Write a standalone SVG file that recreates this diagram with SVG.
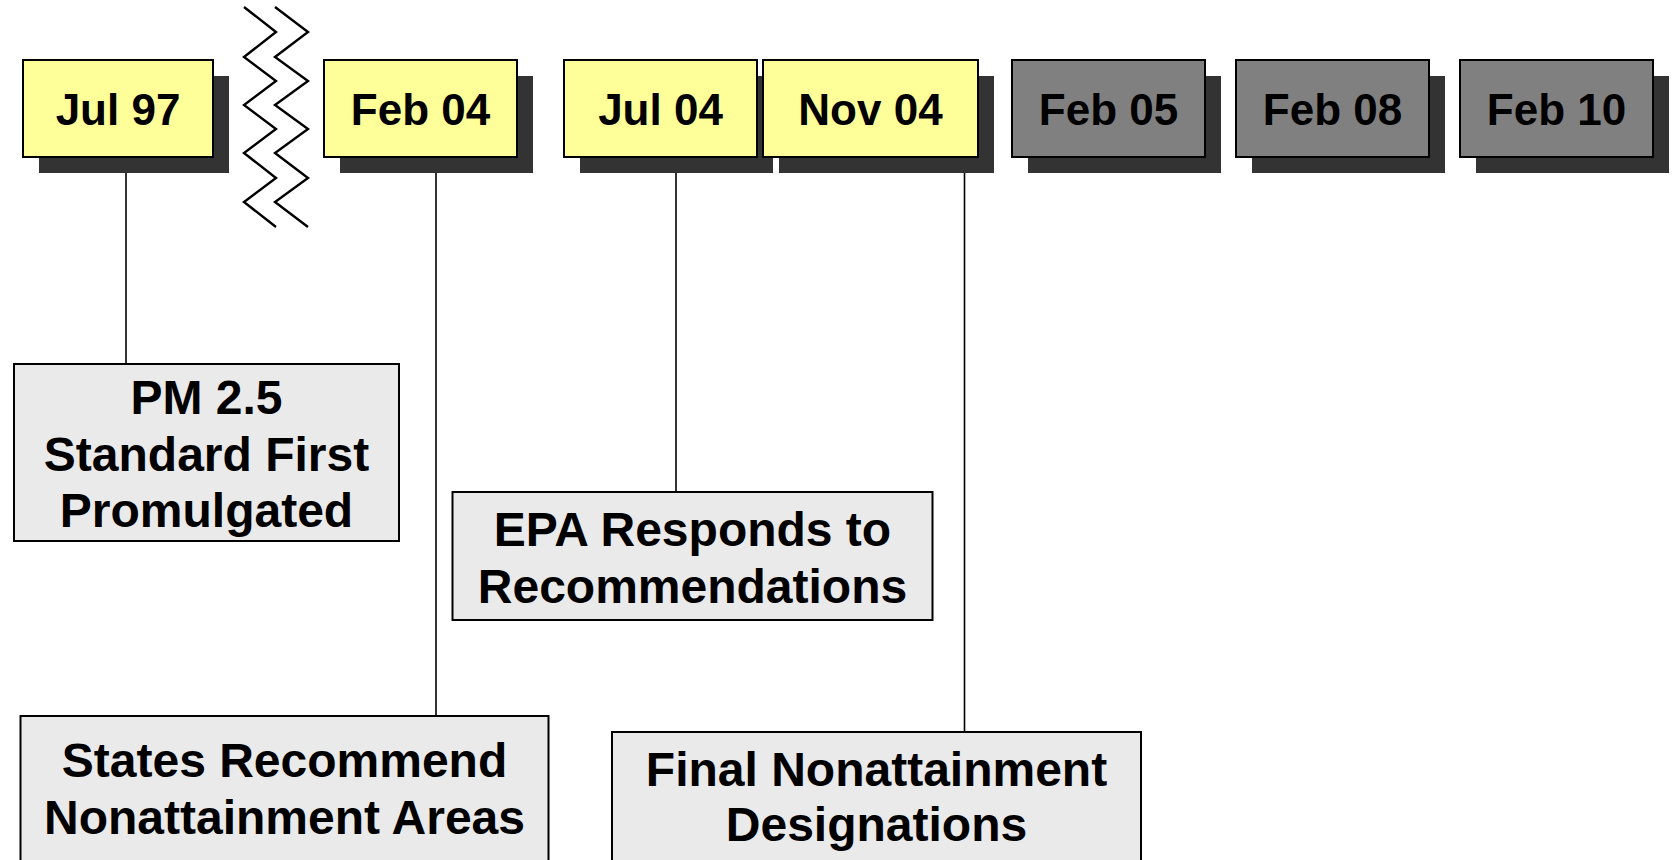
<svg xmlns="http://www.w3.org/2000/svg" width="1674" height="860" viewBox="0 0 1674 860">
<style>
.sh{fill:#333333}
.y{fill:#FFFF99;stroke:#000;stroke-width:2}
.g{fill:#808080;stroke:#000;stroke-width:2}
.d{font-family:"Liberation Sans",Arial,sans-serif;font-weight:bold;font-size:44px;fill:#000;text-anchor:middle}
.b{fill:#EAEAEA;stroke:#000;stroke-width:2}
.t{font-family:"Liberation Sans",Arial,sans-serif;font-weight:bold;font-size:48px;fill:#000;text-anchor:middle}
.c{stroke:#000;stroke-width:1.6;fill:none}
.z{stroke:#000;stroke-width:2.4;fill:none}
</style>
<rect width="1674" height="860" fill="#fff"/>
<g id="connectors">
<line class="c" x1="126" y1="157" x2="126" y2="364"/>
<line class="c" x1="436" y1="157" x2="436" y2="716"/>
<line class="c" x1="676" y1="157" x2="676" y2="492"/>
<line class="c" x1="964.5" y1="157" x2="964.5" y2="732"/>
</g>
<g id="break">
<polyline class="z" points="244,7 276,32 244,57 276,81 244,105 276,129 244,153 276,178 244,202 276,227"/>
<polyline class="z" points="275,7 308,32 275,57 308,81 275,105 308,129 275,153 308,178 275,202 308,227"/>
</g>
<g id="jul97">
<rect class="sh" x="39" y="76" width="190" height="97"/>
<rect class="y" x="23" y="60" width="190" height="97"/>
<text class="d" x="118" y="125">Jul 97</text>
</g>
<g id="feb04">
<rect class="sh" x="340" y="76" width="193" height="97"/>
<rect class="y" x="324" y="60" width="193" height="97"/>
<text class="d" x="420.5" y="125">Feb 04</text>
</g>
<g id="jul04">
<rect class="sh" x="580" y="76" width="193" height="97"/>
<rect class="y" x="564" y="60" width="193" height="97"/>
<text class="d" x="660.5" y="125">Jul 04</text>
</g>
<g id="nov04">
<rect class="sh" x="779" y="76" width="215" height="97"/>
<rect class="y" x="763" y="60" width="215" height="97"/>
<text class="d" x="870.5" y="125">Nov 04</text>
</g>
<g id="feb05">
<rect class="sh" x="1028" y="76" width="193" height="97"/>
<rect class="g" x="1012" y="60" width="193" height="97"/>
<text class="d" x="1108.5" y="125">Feb 05</text>
</g>
<g id="feb08">
<rect class="sh" x="1252" y="76" width="193" height="97"/>
<rect class="g" x="1236" y="60" width="193" height="97"/>
<text class="d" x="1332.5" y="125">Feb 08</text>
</g>
<g id="feb10">
<rect class="sh" x="1476" y="76" width="193" height="97"/>
<rect class="g" x="1460" y="60" width="193" height="97"/>
<text class="d" x="1556.5" y="125">Feb 10</text>
</g>
<g id="pm25">
<rect class="b" x="14" y="364" width="385" height="177"/>
<text class="t" x="206.5" y="414">PM 2.5</text>
<text class="t" x="206.5" y="471">Standard First</text>
<text class="t" x="206.5" y="527">Promulgated</text>
</g>
<g id="epa">
<rect class="b" x="452.5" y="492" width="480" height="128"/>
<text class="t" x="692.5" y="546">EPA Responds to</text>
<text class="t" x="692.5" y="603">Recommendations</text>
</g>
<g id="states">
<rect class="b" x="20.5" y="716" width="528" height="160"/>
<text class="t" x="284.5" y="777">States Recommend</text>
<text class="t" x="284.5" y="834">Nonattainment Areas</text>
</g>
<g id="final">
<rect class="b" x="612" y="732" width="529" height="150"/>
<text class="t" x="876.5" y="786">Final Nonattainment</text>
<text class="t" x="876.5" y="841">Designations</text>
</g>
</svg>
